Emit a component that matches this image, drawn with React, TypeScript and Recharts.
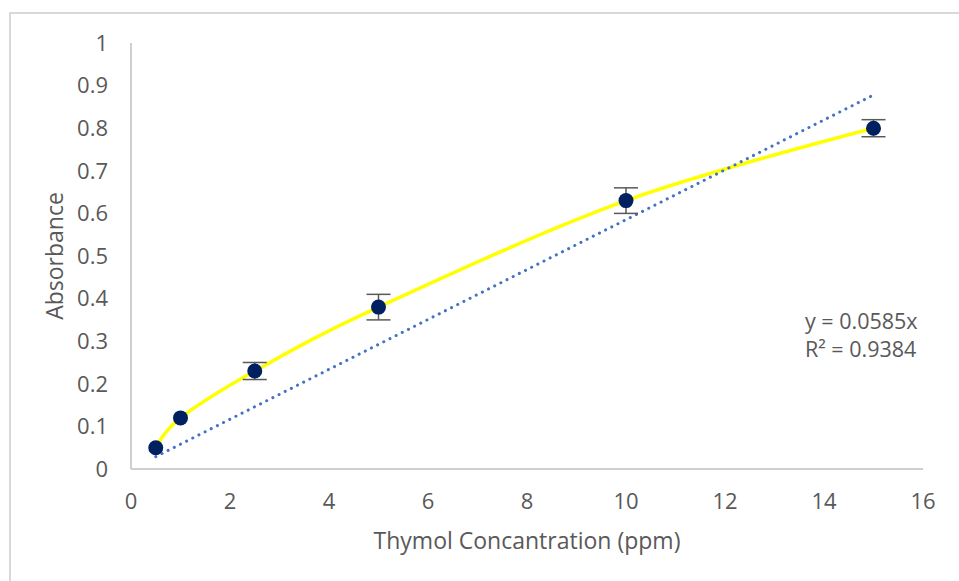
import React from 'react';
import { ComposedChart, Line, Scatter, ErrorBar, XAxis, YAxis } from 'recharts';

const concentrations = [0.5, 1, 2.5, 5, 10, 15];
const absorbance = [0.05, 0.12, 0.23, 0.38, 0.63, 0.8];
// bars at the first two points are hidden by the markers
const errors = [0, 0, 0.02, 0.03, 0.03, 0.02];

// linear trendline y = 0.0585x, endpoints
const trendX = [0.5, 15];
const trendY = [0.029, 0.878];

const xTicks = [0, 2, 4, 6, 8, 10, 12, 14, 16];
const yTicks = [0, 0.1, 0.2, 0.3, 0.4, 0.5, 0.6, 0.7, 0.8, 0.9, 1];

const data = concentrations.map((x, i) => ({ x, y: absorbance[i], err: errors[i] || null }));
const trendData = trendX.map((x, i) => ({ x, trend: trendY[i] }));

const font = '"Open Sans", sans-serif';
const textColor = '#595959';

// Excel-like smoothed line (cardinal spline, tension 0)
const smoothCurve = (ctx: any) => {
  const k = 1 / 6;
  let x0 = NaN, y0 = NaN, x1 = NaN, y1 = NaN, x2 = NaN, y2 = NaN, n = 0;
  const seg = (x: number, y: number) =>
    ctx.bezierCurveTo(x1 + k * (x2 - x0), y1 + k * (y2 - y0), x2 + k * (x1 - x), y2 + k * (y1 - y), x2, y2);
  return {
    areaStart() {},
    areaEnd() {},
    lineStart() { x0 = y0 = x1 = y1 = x2 = y2 = NaN; n = 0; },
    lineEnd() {
      if (n === 2) ctx.lineTo(x2, y2);
      else if (n === 3) seg(x1, y1);
    },
    point(x: number, y: number) {
      x = +x; y = +y;
      if (n === 0) { n = 1; ctx.moveTo(x, y); }
      else if (n === 1) { n = 2; x1 = x; y1 = y; }
      else { n = 3; seg(x, y); }
      x0 = x1; x1 = x2; x2 = x;
      y0 = y1; y1 = y2; y2 = y;
    },
  };
};

const YTitle = (props: any) => {
  const vb = props.viewBox || {};
  const cy = vb.y + vb.height / 2;
  return (
    <text x={54} y={cy} transform={`rotate(-90, 54, ${cy})`} textAnchor="middle"
      dominantBaseline="central" fill={textColor} fontSize={23} fontFamily={font}>
      Absorbance
    </text>
  );
};

const Marker = (props: any) => <circle cx={props.cx} cy={props.cy} r={7.5} fill="#002060" />;
const NoMarker = () => <g />;

export default function App() {
  return (
    <div style={{ position: 'absolute', left: 0, top: 0, width: 959, height: 581, overflow: 'hidden', background: '#fff' }}>
      <div style={{ position: 'absolute', left: 9, top: 12, width: 1000, height: 1000, border: '2px solid #d9d9d9' }} />
      <ComposedChart width={959} height={581} data={data} margin={{ top: 43, right: 36, left: 0, bottom: 0 }}
        style={{ position: 'absolute', left: 0, top: 0 }}>
        <XAxis dataKey="x" type="number" domain={[0, 16]} ticks={xTicks} height={112}
          stroke="#bfbfbf" strokeWidth={1.5} tickLine={false} tickSize={0} tickMargin={24}
          tick={{ fill: textColor, fontSize: 22, fontFamily: font }}
          label={{ value: 'Thymol Concantration (ppm)', position: 'insideBottom', offset: 32, fill: textColor, fontSize: 23, fontFamily: font }} />
        <YAxis type="number" domain={[0, 1]} ticks={yTicks} width={131} interval={0}
          stroke="#bfbfbf" strokeWidth={1.5} tickLine={false} tickSize={0} tickMargin={23}
          tick={{ fill: textColor, fontSize: 22, fontFamily: font }}
          label={<YTitle />} />
        <Line data={data} dataKey="y" type={smoothCurve as any} stroke="#ffff00" strokeWidth={3.5}
          dot={false} activeDot={false} isAnimationActive={false} />
        <Line data={trendData} dataKey="trend" type="linear" stroke="#4472c4" strokeWidth={3}
          strokeDasharray="0.1 6.8" strokeLinecap="round" dot={false} activeDot={false} isAnimationActive={false} />
        <Scatter data={data} dataKey="y" shape={<NoMarker />} isAnimationActive={false}>
          <ErrorBar dataKey="err" direction="y" width={12} stroke="#595959" strokeWidth={1.5} />
        </Scatter>
        <Scatter data={data} dataKey="y" shape={<Marker />} isAnimationActive={false} />
      </ComposedChart>
      <div style={{ position: 'absolute', left: 805, top: 307, fontFamily: font, fontSize: 21.5, lineHeight: '28px', color: textColor, whiteSpace: 'nowrap' }}>
        <div>y = 0.0585x</div>
        <div>R² = 0.9384</div>
      </div>
    </div>
  );
}
